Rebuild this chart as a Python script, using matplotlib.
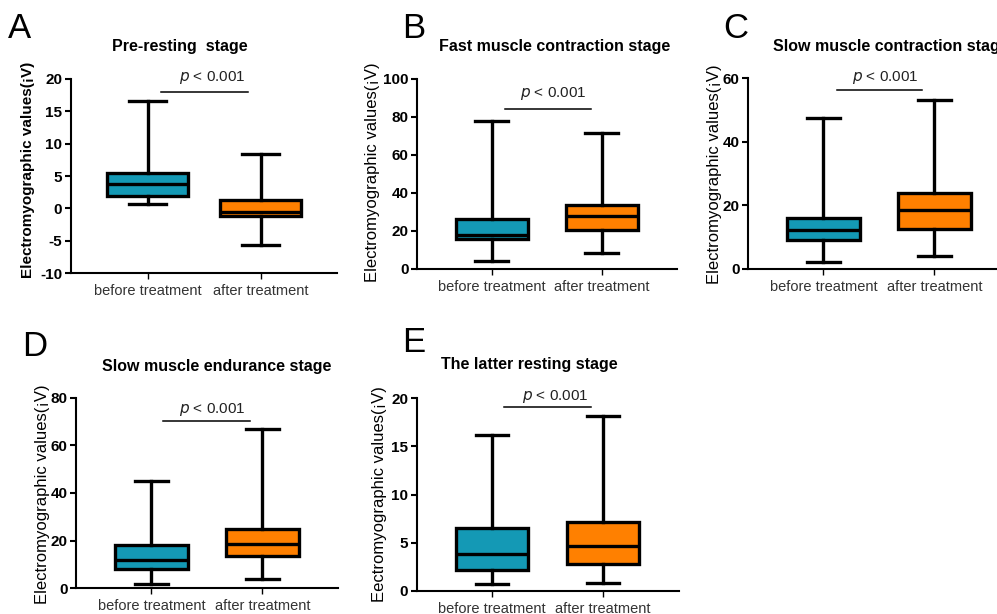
import matplotlib
matplotlib.use("Agg")
import matplotlib.pyplot as plt

plt.rcParams['font.family'] = ['Liberation Sans', 'DejaVu Sans']

categories = ["before treatment", "after treatment"]
stat_keys = ["whislo", "q1", "med", "q3", "whishi"]

# [whisker low, Q1, median, Q3, whisker high]
A_before = [0.7, 1.95, 3.8, 5.4, 16.6]
A_after = [-5.6, -1.25, -0.55, 1.25, 8.35]
B_before = [4.2, 15.8, 18.0, 26.1, 77.9]
B_after = [8.4, 20.5, 28.0, 33.8, 71.5]
C_before = [2.2, 9.2, 12.3, 16.0, 47.3]
C_after = [4.0, 12.7, 18.6, 24.0, 53.0]
D_before = [1.8, 8.3, 11.9, 18.0, 45.0]
D_after = [4.1, 13.6, 18.5, 24.9, 66.7]
E_before = [0.7, 2.2, 3.85, 6.55, 16.2]
E_after = [0.8, 2.75, 4.65, 7.15, 18.2]

titles = ["Pre-resting  stage", "Fast muscle contraction stage",
          "Slow muscle contraction stage", "Slow muscle endurance stage",
          "The latter resting stage"]
letters = ["A", "B", "C", "D", "E"]
ylabels = ["Electromyographic values(¡V)"] * 4 + ["Eectromyographic values(¡V)"]
yticks = [list(range(-10, 21, 5)), list(range(0, 101, 20)), list(range(0, 61, 20)),
          list(range(0, 81, 20)), list(range(0, 21, 5))]
p_text = "$\\it{p}$ < 0.001"

W, H = 997, 614
fig = plt.figure(figsize=(W / 100, H / 100), dpi=100)

teal = "#1499B5"
orange = "#FF8000"

# layout: left spine px, category spacing px, top px, bottom px
layout = [
    dict(left=70.7, sp=113, top=79, bottom=273, bw=0.72, title_x=180, title_y=47, title_ha='center',
         let=(8, 12), ylab=(28, 170), ylab_bold=True, pline=(0.12, 0.89, 18.0), ptxt=(0.575, 18.9)),
    dict(left=417, sp=110, top=79, bottom=269, bw=0.66, title_x=555, title_y=47, title_ha='center',
         let=(402, 12), ylab=(372, 172), ylab_bold=False, pline=(0.12, 0.90, 84.0), ptxt=(0.56, 88.0)),
    dict(left=748, sp=111, top=78, bottom=269, bw=0.66, title_x=773, title_y=47, title_ha='left',
         let=(723, 12), ylab=(714, 174), ylab_bold=False, pline=(0.12, 0.89, 56.1), ptxt=(0.56, 57.6)),
    dict(left=76, sp=111, top=397.7, bottom=588.3, bw=0.65, title_x=217, title_y=367, title_ha='center',
         let=(22, 330), ylab=(42, 494), ylab_bold=False, pline=(0.105, 0.89, 70.2), ptxt=(0.55, 71.5)),
    dict(left=416.7, sp=111, top=398.3, bottom=590.7, bw=0.65, title_x=529, title_y=365, title_ha='center',
         let=(402, 326), ylab=(379, 494), ylab_bold=False, pline=(0.11, 0.89, 19.06), ptxt=(0.566, 19.35)),
]

data = [(A_before, A_after), (B_before, B_after), (C_before, C_after),
        (D_before, D_after), (E_before, E_after)]

x0 = -0.68
x1 = 1.68
for i, L in enumerate(layout):
    width_px = (x1 - x0) * L['sp']
    ax = fig.add_axes([L['left'] / W, 1 - L['bottom'] / H, width_px / W,
                       (L['bottom'] - L['top']) / H])
    stats = []
    for name, vals in zip(categories, data[i]):
        d = dict(zip(stat_keys, vals))
        d['label'] = name
        d['fliers'] = []
        stats.append(d)
    bp = ax.bxp(stats, positions=[0, 1], widths=L['bw'], patch_artist=True,
                showfliers=False, capwidths=L['bw'] * 0.45,
                boxprops=dict(linewidth=2.4, edgecolor='black'),
                medianprops=dict(color='black', linewidth=2.4),
                whiskerprops=dict(color='black', linewidth=2.4),
                capprops=dict(color='black', linewidth=2.4))
    for patch, c in zip(bp['boxes'], [teal, orange]):
        patch.set_facecolor(c)
    yt = yticks[i]
    ax.set_ylim(yt[0], yt[-1])
    ax.set_xlim(x0, x1)
    ax.set_yticks(yt)
    ax.set_yticklabels([str(v) for v in yt], fontsize=11, fontweight='bold')
    ax.set_xticks([0, 1])
    ax.set_xticklabels(categories, fontsize=10.5, color='#333333')
    for s in ['top', 'right']:
        ax.spines[s].set_visible(False)
    for s in ['left', 'bottom']:
        ax.spines[s].set_linewidth(1.5)
    ax.tick_params(axis='y', length=4, width=1.5, pad=2)
    ax.tick_params(axis='x', length=4, width=1.0, pad=4)
    ax.set_facecolor('none')
    # significance line
    a, b, yl = L['pline']
    ax.plot([a, b], [yl, yl], color='black', lw=1.1, clip_on=False)
    ax.text(L['ptxt'][0], L['ptxt'][1], p_text, ha='center', va='bottom', fontsize=11,
            color='#222222', clip_on=False)
    # title
    fig.text(L['title_x'] / W, 1 - L['title_y'] / H, titles[i], ha=L['title_ha'], va='center',
             fontsize=11.5, fontweight='bold')
    # letter
    fig.text(L['let'][0] / W, 1 - L['let'][1] / H, letters[i], ha='left', va='top', fontsize=25)
    # ylabel
    fig.text(L['ylab'][0] / W, 1 - L['ylab'][1] / H, ylabels[i], rotation=90, ha='center',
             va='center', fontsize=11 if L['ylab_bold'] else 12,
             fontweight='bold' if L['ylab_bold'] else 'normal')

fig.savefig("out.png", dpi=100)
